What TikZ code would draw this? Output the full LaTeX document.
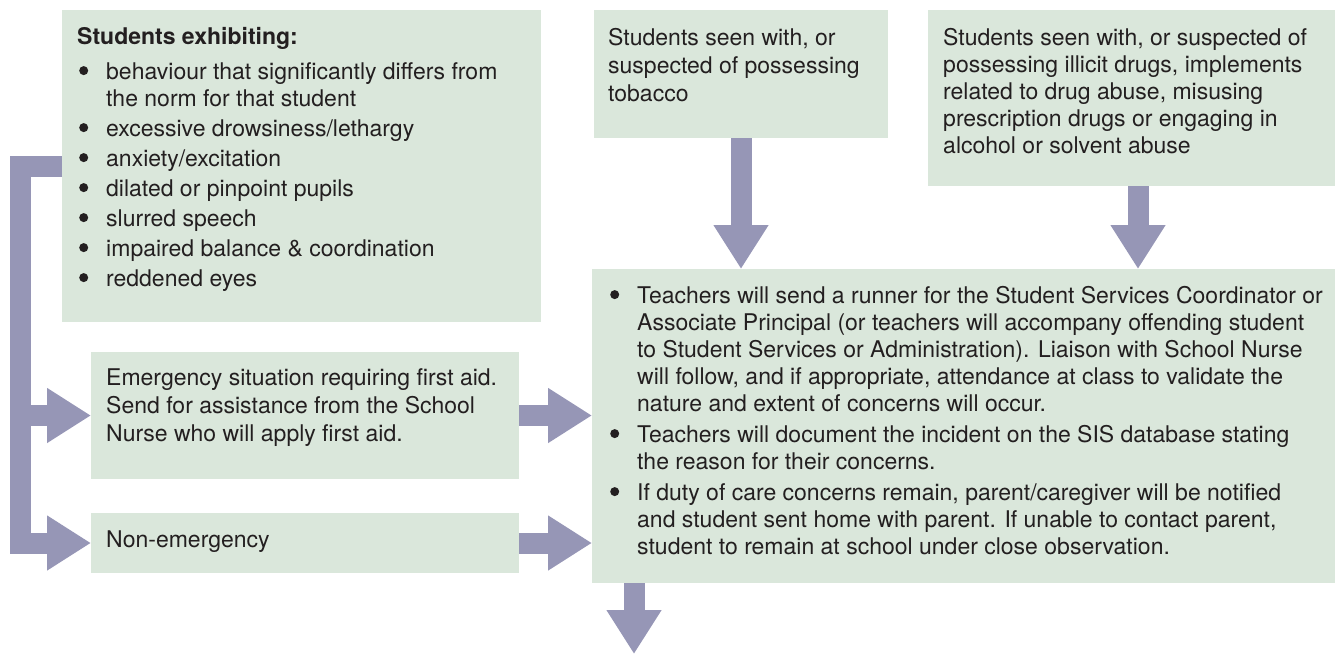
\documentclass[tikz,border=0pt]{standalone}
\usepackage{fontspec}
\setmainfont{TeX Gyre Heros}
\usetikzlibrary{arrows.meta,calc}
\definecolor{boxfill}{RGB}{218,231,219}
\definecolor{arrowc}{RGB}{150,150,182}
\definecolor{txtc}{RGB}{35,31,32}
\tikzset{
  box/.style={fill=boxfill, draw=none, inner sep=0pt, outer sep=0pt, anchor=north west},
  txtnode/.style={inner sep=0pt, anchor=base west, text=txtc, font=\fontsize{23}{27}\selectfont},
  flow/.style={draw=arrowc, line width=21pt, line join=miter, -{Triangle[width=52pt,length=44pt]}},
}
\newcommand\bul{\makebox[29pt][l]{\hspace*{2pt}\tikz[baseline=0pt,x=1pt,y=1pt]\fill[txtc] (4.5,8.4) circle[radius=4.5];}}
\newcommand\ind{\hspace*{29pt}}
\begin{document}
\begin{tikzpicture}[x=1pt,y=-1pt]
\useasboundingbox (0,0) rectangle (1335,654);
% boxes
\node[box, minimum width=479pt, minimum height=312pt] (A) at (62,10) {};
\node[box, minimum width=294pt, minimum height=128pt] (tob) at (594,10) {};
\node[box, minimum width=407pt, minimum height=176pt] (drug) at (928,10) {};
\node[box, minimum width=428pt, minimum height=127pt] (em) at (91,352) {};
\node[box, minimum width=428pt, minimum height=60pt] (ne) at (91,513) {};
\node[box, minimum width=743pt, minimum height=314pt] (main) at (592,269) {};
% texts
\node[txtnode] (Atxt) at ([shift={(15,34)}]A.north west) {\begin{tabular}[t]{@{}l@{}}
\textbf{Students exhibiting:}\\[8pt]
\bul behaviour that significantly differs from\\
\ind the norm for that student\\[3pt]
\bul excessive drowsiness/lethargy\\[3pt]
\bul anxiety/excitation\\[3pt]
\bul dilated or pinpoint pupils\\[3pt]
\bul slurred speech\\[3pt]
\bul impaired balance \& coordination\\[3pt]
\bul reddened eyes
\end{tabular}};
\node[txtnode] (tobtxt) at ([shift={(14,35)}]tob.north west) {\begin{tabular}[t]{@{}l@{}}
Students seen with, or\\[1pt]
suspected of possessing\\[1pt]
tobacco
\end{tabular}};
\node[txtnode] (drugtxt) at ([shift={(15,35)}]drug.north west) {\begin{tabular}[t]{@{}l@{}}
Students seen with, or suspected of\\
possessing illicit drugs, implements\\
related to drug abuse, misusing\\
prescription drugs or engaging in\\
alcohol or solvent abuse
\end{tabular}};
\node[txtnode] (emtxt) at ([shift={(15,33)}]em.north west) {\begin{tabular}[t]{@{}l@{}}
Emergency situation requiring first aid.\\[1pt]
Send for assistance from the School\\[1pt]
Nurse who will apply first aid.
\end{tabular}};
\node[txtnode] (netxt) at ([shift={(15,34)}]ne.north west) {Non-emergency};
\node[txtnode] (maintxt) at ([shift={(16,34)}]main.north west) {\begin{tabular}[t]{@{}l@{}}
\bul Teachers will send a runner for the Student Services Coordinator or\\
\ind Associate Principal (or teachers will accompany offending student\\
\ind to Student Services or Administration). Liaison with School Nurse\\
\ind will follow, and if appropriate, attendance at class to validate the\\
\ind nature and extent of concerns will occur.\\[4pt]
\bul Teachers will document the incident on the SIS database stating\\
\ind the reason for their concerns.\\[4pt]
\bul If duty of care concerns remain, parent/caregiver will be notified\\
\ind and student sent home with parent. If unable to contact parent,\\
\ind student to remain at school under close observation.
\end{tabular}};
% connectors
\coordinate (busx) at (20,0);
\coordinate (endpt) at (634,654);
\draw[flow] (A.west) -| (ne.west -| busx) -- (ne.west);
\draw[flow] (em.west -| busx) -- (em.west);
\draw[flow] (em.east) -- (em.east -| main.west);
\draw[flow] (ne.east) -- (ne.east -| main.west);
\draw[flow] (tob.south) -- (tob.south |- main.north);
\draw[flow] ([xshift=6.5pt]drug.south) -- ([xshift=6.5pt]drug.south |- main.north);
\draw[flow] (main.south -| endpt) -- (endpt);
\end{tikzpicture}
\end{document}
